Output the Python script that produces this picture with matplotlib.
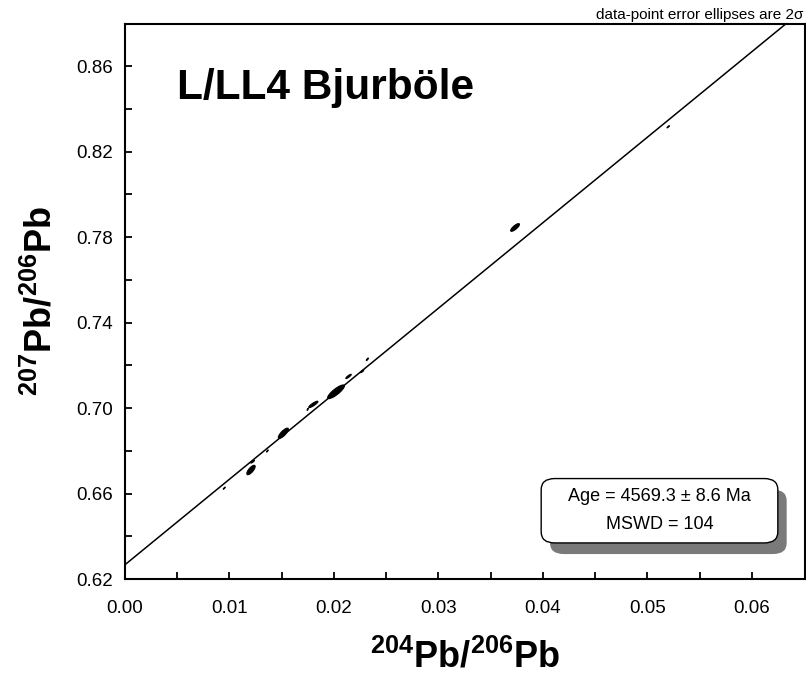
import numpy as np
import matplotlib
matplotlib.use("Agg")
import matplotlib.pyplot as plt
from matplotlib.patches import Ellipse, FancyBboxPatch

plt.rcParams['font.family'] = ['Liberation Sans', 'DejaVu Sans']
plt.rcParams['mathtext.fontset'] = 'custom'
plt.rcParams['mathtext.rm'] = 'Liberation Sans:bold'
plt.rcParams['mathtext.bf'] = 'Liberation Sans:bold'

# 204Pb/206Pb, 207Pb/206Pb analyses with 1-sigma errors and error correlation
x_204_206 = [0.0095, 0.01206, 0.01222, 0.01363, 0.01516, 0.01749, 0.01803,
             0.0202, 0.0214, 0.0227, 0.0232, 0.03734, 0.0520]
y_207_206 = [0.6625, 0.6710, 0.6749, 0.6799, 0.6882, 0.6994, 0.7017,
             0.7076, 0.7148, 0.7172, 0.7228, 0.7845, 0.8316]
sig_x = [0.00005, 0.0002, 0.00009, 0.00004, 0.00024, 0.00003, 0.00022,
         0.0004, 0.00013, 0.00008, 0.00005, 0.00021, 0.00006]
sig_y = [0.00025, 0.0011, 0.00033, 0.00025, 0.0012, 0.00025, 0.00075,
         0.0016, 0.0005, 0.00032, 0.0003, 0.0009, 0.00025]
rho = [0.9, 0.75, 0.9, 0.85, 0.8, 0.85, 0.88, 0.85, 0.88, 0.85, 0.85, 0.8, 0.9]

# Regression (isochron) line
isochron_intercept = 0.6267
isochron_slope = 4.0

age_text = "Age = 4569.3 \u00b1 8.6 Ma"
mswd_text = "MSWD = 104"
title_text = "L/LL4 Bjurb\u00f6le"

x_ticks = [0.00, 0.01, 0.02, 0.03, 0.04, 0.05, 0.06]
y_ticks = [0.62, 0.66, 0.70, 0.74, 0.78, 0.82, 0.86]

fig = plt.figure(figsize=(8.06, 6.82), dpi=100)
ax = fig.add_axes([0.1551, 0.151, 0.8437, 0.8138])
ax.set_xlim(0, 0.0651)
ax.set_ylim(0.62, 0.8797)

# 2-sigma error ellipses
for xi, yi, sx, sy, r in zip(x_204_206, y_207_206, sig_x, sig_y, rho):
    cov = np.array([[sx**2, r*sx*sy], [r*sx*sy, sy**2]])
    vals, vecs = np.linalg.eigh(cov)
    order = vals.argsort()[::-1]
    vals, vecs = vals[order], vecs[:, order]
    ang = np.degrees(np.arctan2(vecs[1, 0], vecs[0, 0]))
    w, h = 2 * 2 * np.sqrt(vals)
    ax.add_patch(Ellipse((xi, yi), w, h, angle=ang, facecolor='black',
                         edgecolor='black', lw=0.8, zorder=3))

xl = np.array(ax.get_xlim())
ax.plot(xl, isochron_intercept + isochron_slope * xl, color='black', lw=1.1, zorder=2)

# Axes styling
for s in ax.spines.values():
    s.set_linewidth(1.5)
ax.set_xticks(x_ticks)
ax.set_xticklabels([f"{v:.2f}" for v in x_ticks])
ax.set_xticks(np.arange(0.005, 0.065, 0.01), minor=True)
ax.set_yticks(y_ticks)
ax.set_yticklabels([f"{v:.2f}" for v in y_ticks])
ax.set_yticks(np.arange(0.64, 0.88, 0.04), minor=True)
ax.tick_params(which='both', direction='in', length=5, width=1.3,
               top=False, right=False)
ax.tick_params(axis='x', which='major', labelsize=13.5, pad=15)
ax.tick_params(axis='y', which='major', labelsize=13.5, pad=9)

ax.set_xlabel(r'$^{204}$Pb/$^{206}$Pb', fontsize=26, fontweight='bold', labelpad=16)
ax.set_ylabel(r'$^{207}$Pb/$^{206}$Pb', fontsize=26, fontweight='bold', labelpad=12)

ax.text(0.077, 0.885, title_text, transform=ax.transAxes, fontsize=30.5,
        fontweight='bold', va='center', ha='left')

ax.text(0.998, 1.004, "data-point error ellipses are 2\u03c3", transform=ax.transAxes,
        fontsize=11, ha='right', va='bottom')

# Result box with drop shadow
bx, by, bw, bh = 0.612, 0.065, 0.348, 0.116
shadow = FancyBboxPatch((bx + 0.013, by - 0.02), bw, bh, transform=ax.transAxes,
                        boxstyle="round,pad=0,rounding_size=0.02",
                        facecolor='#7a7a7a', edgecolor='none', zorder=4)
box = FancyBboxPatch((bx, by), bw, bh, transform=ax.transAxes,
                     boxstyle="round,pad=0,rounding_size=0.02",
                     facecolor='white', edgecolor='black', lw=1.0, zorder=5)
ax.add_patch(shadow)
ax.add_patch(box)
ax.text(bx + bw / 2, by + bh * 0.72, age_text, transform=ax.transAxes,
        fontsize=13, ha='center', va='center', zorder=6)
ax.text(bx + bw / 2, by + bh * 0.28, mswd_text, transform=ax.transAxes,
        fontsize=13, ha='center', va='center', zorder=6)

fig.savefig("out.png", dpi=100)
